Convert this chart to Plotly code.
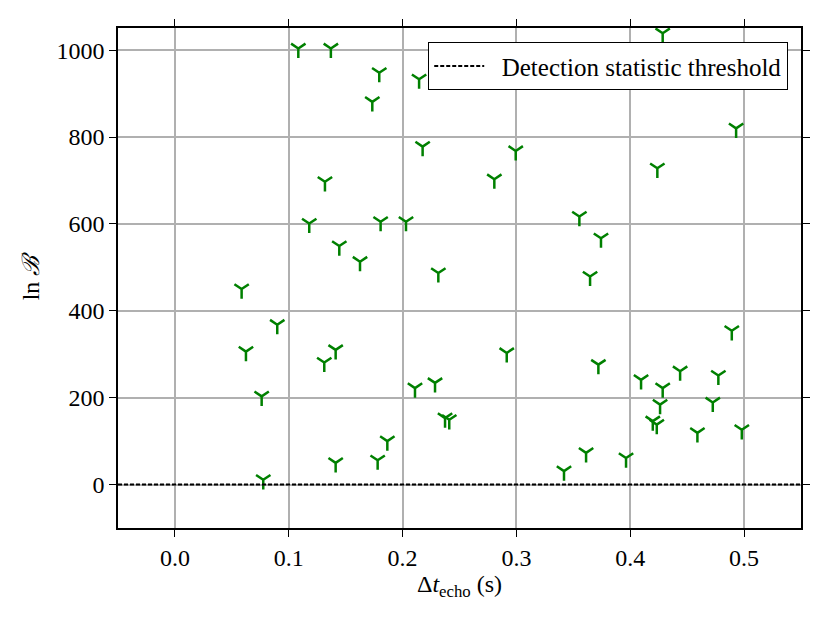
"""Echo search: ln B against echo delay, with the detection threshold."""

import plotly.graph_objects as go

# Echo delay (s) of each trigger
delta_t_echo = [
    0.1084, 0.137, 0.1795, 0.2145, 0.1734, 0.2176, 0.1318, 0.118, 0.1807,
    0.203, 0.1444, 0.1626, 0.2314, 0.4285, 0.493, 0.2994, 0.2806, 0.4238,
    0.3553, 0.3743, 0.3647, 0.0586, 0.0899, 0.0624, 0.1312, 0.1412, 0.0762,
    0.2109, 0.2285, 0.2373, 0.241, 0.1866, 0.1781, 0.1412, 0.0776, 0.2915,
    0.372, 0.4892, 0.4095, 0.4285, 0.4438, 0.4774, 0.4262, 0.4725, 0.4198,
    0.4233, 0.459, 0.498, 0.3612, 0.3963, 0.3418,
]

# ln B of each trigger
ln_bayes = [
    1004, 1004, 948, 933, 881, 778, 697, 601, 605,
    605, 549, 513, 487, 1039, 820, 768, 703, 728,
    617, 567, 479, 450, 368, 306, 281, 310, 203,
    222, 234, 153, 149, 100, 56, 50, 11, 303,
    276, 354, 241, 222, 261, 251, 184, 189, 146,
    138, 119, 126, 73, 61, 31,
]

threshold = 0
threshold_label = "Detection statistic threshold"

x_ticks = [0.0, 0.1, 0.2, 0.3, 0.4, 0.5]
y_ticks = [0, 200, 400, 600, 800, 1000]

FONT = "Liberation Serif"
FONT_SIZE = 24

fig = go.Figure()

fig.add_trace(
    go.Scatter(
        x=delta_t_echo,
        y=ln_bayes,
        mode="markers",
        marker={
            "symbol": "y-down",
            "size": 12,
            "color": "green",
            "line": {"color": "green", "width": 2.5},
        },
        showlegend=False,
    )
)

# 阈值线
fig.add_hline(y=threshold, line_dash="4px,2px", line_color="black", line_width=2)

# 图例用的空 trace（前面加空格拉开线和文字）
fig.add_trace(
    go.Scatter(
        x=[None],
        y=[None],
        mode="lines",
        name="\u2002" + threshold_label,
        line={"color": "black", "dash": "4px,2px", "width": 2},
    )
)

axis_common = {
    "showline": True,
    "linecolor": "black",
    "linewidth": 1.5,
    "mirror": "allticks",
    "ticks": "outside",
    "ticklen": 7,
    "tickwidth": 1.4,
    "tickcolor": "black",
    "showgrid": True,
    "gridcolor": "#b0b0b0",
    "gridwidth": 1.5,
    "zeroline": False,
    "tickfont": {"family": FONT, "size": FONT_SIZE, "color": "black"},
}

fig.update_xaxes(
    range=[-0.05, 0.55],
    tickvals=x_ticks,
    ticktext=[f"{v:.1f}" for v in x_ticks],
    title={
        "text": "Δ<i>t</i><sub>echo</sub> (s)",
        "font": {"family": FONT, "size": FONT_SIZE, "color": "black"},
        "standoff": 3,
    },
    **axis_common,
)
fig.update_yaxes(
    range=[-100, 1051],
    tickvals=y_ticks,
    title={
        "text": "ln <i>ℬ</i>",
        "font": {"family": FONT, "size": FONT_SIZE, "color": "black"},
        "standoff": 10,
    },
    **axis_common,
)

fig.update_layout(
    width=822,
    height=615,
    margin={"l": 110, "r": 29, "t": 20, "b": 95},
    plot_bgcolor="white",
    paper_bgcolor="white",
    font={"family": FONT, "size": FONT_SIZE, "color": "black"},
    legend={
        "x": 0.981,
        "y": 0.972,
        "xanchor": "right",
        "yanchor": "top",
        "bgcolor": "white",
        "bordercolor": "black",
        "borderwidth": 1.2,
        "itemwidth": 50,
        "font": {"family": FONT, "size": 25, "color": "black"},
    },
)

fig.write_html("out.html")
